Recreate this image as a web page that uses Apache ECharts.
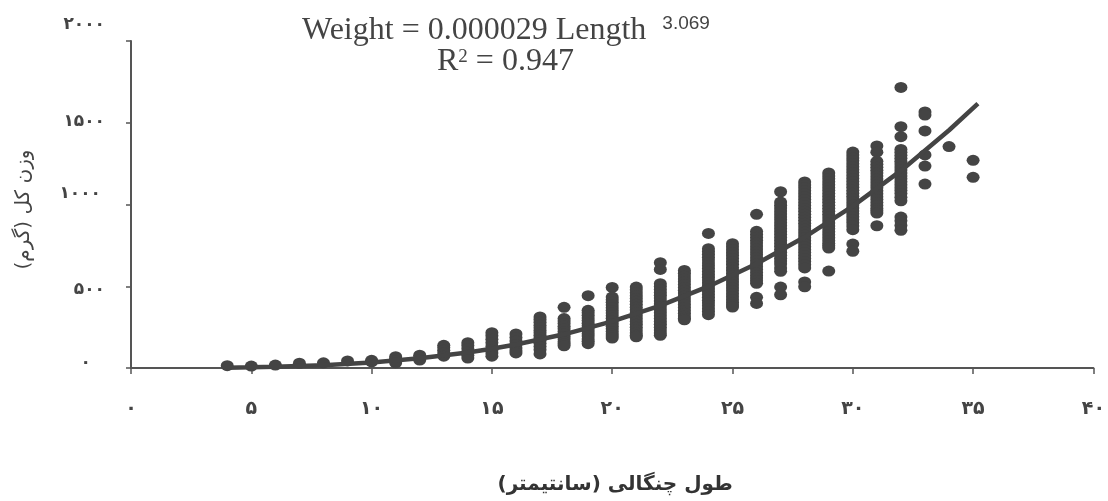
<!DOCTYPE html>
<html>
<head>
<meta charset="utf-8">
<script src="https://cdn.jsdelivr.net/npm/echarts@6/dist/echarts.min.js"></script>
<style>html,body{margin:0;padding:0;background:#fff}#c{width:1108px;height:501px}</style>
</head>
<body>
<div id="c"></div>
<script>
const lengths = [4,5,6,7,8,9,10,11,12,13,14,15,16,17,18,19,20,21,22,23,24,25,26,27,28,29,30,31,32,33,34,35];
const weightsByLength = [
  [14],[12],[18],[29],[32],[43],[47,38],
  [69,58,45,32],
  [78,66,49],
  [139,125,108,92,72],
  [155,138,118,96,78,61],
  [216,198,176,155,132,110,92,72],
  [208,186,165,143,122,105,92],
  [312,296,280,262,246,230,215,200,185,170,151,132,112,86],
  [371,302,288,272,255,240,224,208,192,178,160,148,136],
  [442,353,338,322,306,290,274,258,242,226,210,195,178,163,149],
  [493,434,418,402,385,368,352,336,320,304,288,272,256,240,224,208,195,183],
  [495,478,460,442,425,408,390,372,355,338,320,302,285,268,250,232,214,200,191],
  [644,603,516,498,480,462,445,428,410,392,374,356,338,320,302,285,268,250,232,214,200],
  [597,580,562,545,528,510,492,475,458,440,422,405,388,370,352,335,318,305,295],
  [823,730,712,695,678,660,642,625,608,590,572,555,538,520,502,485,468,450,432,415,398,380,362,345,326],
  [760,742,724,705,688,670,652,634,615,598,580,562,544,526,508,490,472,454,436,418,400,385,373],
  [940,836,818,800,782,764,746,728,710,692,674,656,638,620,602,584,566,550,534,518,432,395],
  [1078,1015,996,978,960,942,924,906,888,870,852,834,816,798,780,762,744,726,708,690,672,654,636,612,591,495,448],
  [1138,1120,1102,1084,1066,1048,1030,1012,994,976,958,940,922,904,886,868,850,832,814,796,778,760,742,724,706,688,670,652,632,612,526,497],
  [1193,1175,1157,1139,1121,1103,1085,1067,1049,1031,1013,995,977,959,941,923,905,887,869,851,833,815,797,779,761,748,734,593],
  [1321,1303,1285,1267,1249,1231,1213,1195,1177,1159,1141,1123,1105,1087,1069,1051,1033,1015,997,979,961,943,925,907,889,868,846,758,714],
  [1358,1320,1264,1246,1228,1210,1192,1174,1156,1138,1120,1102,1084,1066,1048,1030,1012,994,976,962,948,870],
  [1716,1476,1415,1337,1319,1301,1283,1265,1247,1229,1211,1193,1175,1157,1139,1121,1103,1085,1067,1045,1023,923,900,872,842],
  [1566,1547,1450,1303,1235,1125],
  [1354],
  [1270,1166]
];
const trendLengths = [4,5,6,8,10,12,14,15,16,18,20,22,24,26,28,30,32,34,35.2];
const trendWeights = [2,4,7,17,34,60,95,118,144,206,285,382,499,638,801,990,1207,1454,1617];
const xTickLabels = {0:'۰',5:'۵',10:'۱۰',15:'۱۵',20:'۲۰',25:'۲۵',30:'۳۰',35:'۳۵',40:'۴۰'};
const yTickLabels = {0:'۰',500:'۵۰۰',1000:'۱۰۰۰',1500:'۱۵۰۰',2000:'۲۰۰۰'};
const titleLine1 = 'Weight = 0.000029 Length ';
const titleExponent = '3.069';
const xName = 'طول چنگالی (سانتیمتر)';
const yName = 'وزن کل (گرم)';

const ink = '#444444';
const points = [];
lengths.forEach((l, i) => weightsByLength[i].forEach(w => points.push([l, w])));
const trend = trendLengths.map((l, i) => [l, trendWeights[i]]);
const yRich = {
  v0:{padding:[0,14,10,0]}, v500:{padding:[6,0,0,0]}, v1000:{padding:[0,4,22,0]},
  v1500:{padding:[0,0,2,0]}, v2000:{padding:[0,0,32,0]}
};
Object.values(yRich).forEach(s => Object.assign(s,{fontFamily:'DejaVu Sans',fontSize:17,fontWeight:'bold',color:ink}));

const chart = echarts.init(document.getElementById('c'), null, {renderer:'canvas'});
chart.setOption({
  animation:false,
  backgroundColor:'#ffffff',
  title:[
    {left:297,top:9,text:'{m|'+titleLine1+'}{s|'+titleExponent+'}',
     textStyle:{fontWeight:'normal',rich:{m:{fontFamily:'Liberation Serif',fontSize:32,color:ink},
                      s:{fontFamily:'Liberation Sans',fontSize:19,color:ink,padding:[0,0,14,8]}}}},
    {left:432,top:41,text:'{m|R}{s|2}{m| = 0.947}',
     textStyle:{fontWeight:'normal',rich:{m:{fontFamily:'Liberation Serif',fontSize:32,color:ink},
                      s:{fontFamily:'Liberation Serif',fontSize:19,color:ink,padding:[0,0,9,0]}}}}
  ],
  grid:{left:131,right:13,top:41,bottom:133,containLabel:false},
  xAxis:{
    type:'value',min:0,max:40,interval:5,splitLine:{show:false},
    axisLine:{onZero:false,lineStyle:{color:'#555555',width:2}},
    axisTick:{length:6,lineStyle:{color:'#555555',width:1.5}},
    axisLabel:{margin:32,fontFamily:'DejaVu Sans',fontSize:19,fontWeight:'bold',color:ink,
      formatter:v=>xTickLabels[v]},
    name:xName,nameLocation:'middle',nameGap:107,
    nameTextStyle:{fontFamily:'DejaVu Sans',fontSize:20,fontWeight:'bold',color:'#333333',padding:[0,0,0,6]}
  },
  yAxis:{
    type:'value',min:0,max:2000,interval:500,splitLine:{show:false},
    axisLine:{lineStyle:{color:'#555555',width:2}},
    axisTick:{length:5,lineStyle:{color:'#555555',width:1.5}},
    axisLabel:{margin:26,rich:yRich,formatter:v=>'{v'+v+'|'+yTickLabels[v]+'}'},
    name:yName,nameLocation:'middle',nameGap:97,
    nameTextStyle:{fontFamily:'DejaVu Sans',fontSize:20,color:ink,padding:[0,10,0,0]}
  },
  series:[
    {type:'scatter',data:points,symbol:'circle',symbolSize:[13,11],itemStyle:{color:ink,opacity:1},z:3,silent:true},
    {type:'line',data:trend,showSymbol:false,lineStyle:{color:ink,width:4.5},z:4,silent:true}
  ]
});
</script>
</body>
</html>
